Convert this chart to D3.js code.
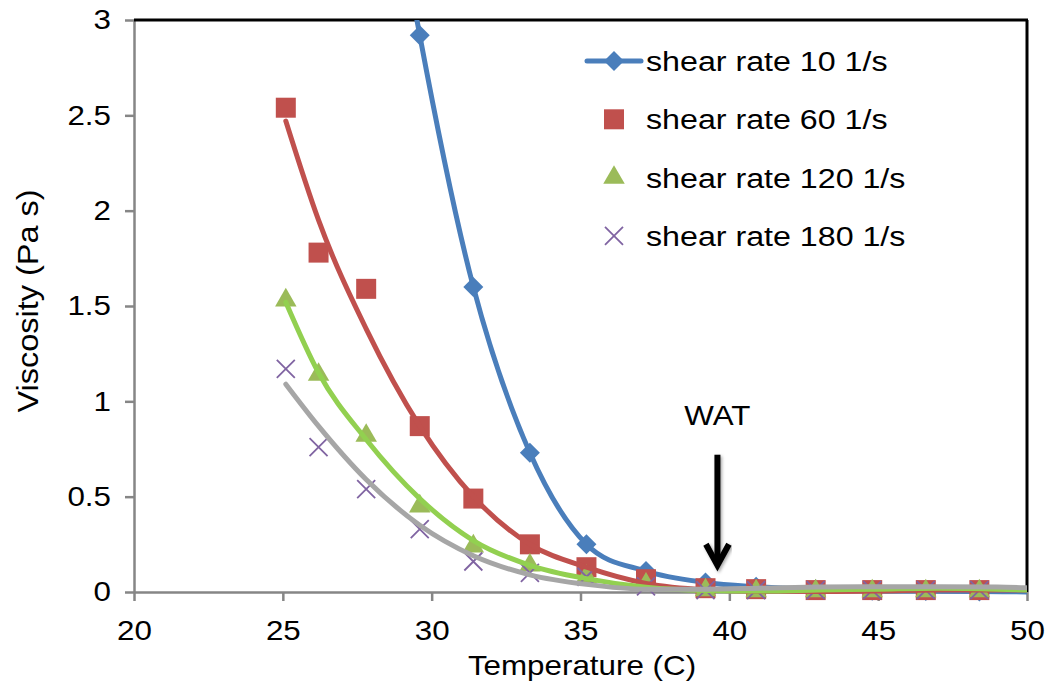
<!DOCTYPE html>
<html lang="en">
<head>
<meta charset="UTF-8">
<title>Viscosity vs temperature</title>
<script src="https://cdn.jsdelivr.net/npm/d3@7"></script>
<style>
  body { margin: 0; background: #fff; }
  text { font-family: "Liberation Sans", Arial, sans-serif; font-size: 28px; fill: #000; }
</style>
</head>
<body>
<svg id="chart" width="1052" height="685"></svg>
<script>
// measured temperatures (C)
var temps = [25.1, 26.2, 27.8, 29.6, 31.4, 33.3, 35.2, 37.2, 39.2, 40.9, 42.9, 44.8, 46.6, 48.4];
// shear rate 10 runs off the top at low T and on past 50
var temps10 = [25.1, 26.2, 27.8, 29.6, 31.4, 33.3, 35.2, 37.2, 39.2, 40.9, 42.9, 44.8, 46.6, 48.4, 50.3];
var rate10  = [9.0, 6.8, 4.6, 2.92, 1.60, 0.73, 0.25, 0.11, 0.05, 0.028, 0.015, 0.007, 0.005, 0.003, 0];
var rate60  = [2.54, 1.78, 1.59, 0.87, 0.49, 0.25, 0.13, 0.067, 0.02, 0.015, 0.01, 0.01, 0.01, 0.01];
var rate120 = [1.53, 1.14, 0.82, 0.45, 0.24, 0.14, 0.08, 0.04, 0.01, 0.005, 0.005, 0.005, 0.005, 0.005];
var rate180 = [1.17, 0.76, 0.54, 0.33, 0.16, 0.10, 0.08, 0.03, 0.01, 0.01, 0.01, 0.01, 0.01, 0.01];

// trendlines
var trendTemps = [25.1, 26.2, 27.8, 29.6, 31.4, 33.3, 35.2, 37.2, 39.2, 41, 43, 45, 47, 49, 50];
var trend60  = [2.47, 1.95, 1.38, 0.87, 0.50, 0.25, 0.13, 0.045, 0.012, 0.004, 0.003, 0.005, 0.01, 0.01, 0.01];
var trend120 = [1.52, 1.15, 0.80, 0.49, 0.27, 0.14, 0.07, 0.025, 0.008, 0.005, 0.01, 0.015, 0.02, 0.015, 0.01];
var trend180 = [1.09, 0.87, 0.59, 0.35, 0.19, 0.09, 0.04, 0.015, 0.015, 0.02, 0.026, 0.028, 0.028, 0.026, 0.022];

var legendLabels = ["shear rate 10 1/s", "shear rate 60 1/s", "shear rate 120 1/s", "shear rate 180 1/s"];
var xTicks = [20, 25, 30, 35, 40, 45, 50];
var yTicks = [0, 0.5, 1, 1.5, 2, 2.5, 3];
var yTickLabels = ["0", "0.5", "1", "1.5", "2", "2.5", "3"];
var watLabel = "WAT", watT = 39.6, watTop = 0.72, watTip = 0.14, watText = 0.876;

var STRETCH = 1.12; // glyphs in the picture run wide
var blue = "#4a7ebb", red = "#c0504d", green = "#9bbb59", lime = "#92d050", purple = "#8064a2", grey = "#a6a6a6";

var svg = d3.select("#chart");
var x = d3.scaleLinear().domain([20, 50]).range([134, 1027]);
var y = d3.scaleLinear().domain([0, 3]).range([592, 20]);

svg.append("clipPath").attr("id", "plot")
  .append("rect").attr("x", 134).attr("y", 20).attr("width", 893).attr("height", 582);

// axes
var xAxis = svg.append("g").attr("transform", "translate(0,592)")
  .call(d3.axisBottom(x).tickValues(xTicks).tickSize(9).tickSizeOuter(0).tickPadding(19));
var yAxis = svg.append("g").attr("transform", "translate(134,0)")
  .call(d3.axisLeft(y).tickValues(yTicks).tickSize(9).tickSizeOuter(0)
    .tickFormat(function(d, i) { return yTickLabels[i]; }));
[xAxis, yAxis].forEach(function(a) {
  a.selectAll("path, line").attr("stroke", "#868686").attr("stroke-width", 2.5);
  a.selectAll("text").attr("fill", "#000").style("font-size", "28px")
    .attr("font-family", null).attr("font-size", null);
});
xAxis.selectAll("text").attr("transform", "scale(" + STRETCH + ",1)");
yAxis.selectAll("text").attr("x", -23 / STRETCH).attr("transform", "scale(" + STRETCH + ",1)");

// frame top and right
svg.append("line").attr("x1", 134).attr("x2", 1028).attr("y1", 20).attr("y2", 20)
  .attr("stroke", "#000").attr("stroke-width", 3);
svg.append("line").attr("x1", 1027).attr("x2", 1027).attr("y1", 20).attr("y2", 592)
  .attr("stroke", "#000").attr("stroke-width", 3);

// axis titles
svg.append("text").attr("text-anchor", "middle")
  .attr("transform", "translate(582,675) scale(" + STRETCH + ",1)")
  .text("Temperature (C)");
svg.append("text").attr("text-anchor", "middle")
  .attr("transform", "translate(38,301) rotate(-90) scale(" + STRETCH + ",1)")
  .style("font-size", "29px")
  .text("Viscosity (Pa s)");

// marker shapes
var diamond = d3.symbol(d3.symbolSquare, 200);
var square = d3.symbol(d3.symbolSquare, 400);
var triangle = d3.symbol(d3.symbolTriangle, 200);
var cross = d3.symbol({
  draw: function(ctx, size) {
    var r = Math.sqrt(size) / 2;
    ctx.moveTo(-r, -r); ctx.lineTo(r, r);
    ctx.moveTo(r, -r); ctx.lineTo(-r, r);
  }
}, 324);

function pts(ts, vs) {
  return ts.map(function(t, i) { return [t, vs[i]]; });
}
function inView(d) { return d[1] <= 3 && d[0] <= 50; }

var smooth = d3.line().x(function(d) { return x(d[0]); }).y(function(d) { return y(d[1]); })
  .curve(d3.curveCardinal.tension(0));
var trend = d3.line().x(function(d) { return x(d[0]); }).y(function(d) { return y(d[1]); })
  .curve(d3.curveMonotoneX);

var series = svg.append("g");

// shear rate 10: line + diamonds
series.append("path").datum(pts(temps10, rate10))
  .attr("clip-path", "url(#plot)")
  .attr("d", smooth).attr("fill", "none").attr("stroke", blue).attr("stroke-width", 5);
series.selectAll(".d10").data(pts(temps10, rate10).filter(inView)).enter().append("path")
  .attr("class", "d10").attr("d", diamond).attr("fill", blue)
  .attr("transform", function(d) { return "translate(" + x(d[0]) + "," + y(d[1]) + ") rotate(45)"; });

// markers only for the others
series.selectAll(".d60").data(pts(temps, rate60)).enter().append("path")
  .attr("class", "d60").attr("d", square).attr("fill", red)
  .attr("transform", function(d) { return "translate(" + x(d[0]) + "," + y(d[1]) + ")"; });
series.selectAll(".d120").data(pts(temps, rate120)).enter().append("path")
  .attr("class", "d120").attr("d", triangle).attr("fill", green)
  .attr("transform", function(d) { return "translate(" + x(d[0]) + "," + y(d[1]) + ")"; });
series.selectAll(".d180").data(pts(temps, rate180)).enter().append("path")
  .attr("class", "d180").attr("d", cross).attr("fill", "none").attr("stroke", purple).attr("stroke-width", 1.8)
  .attr("transform", function(d) { return "translate(" + x(d[0]) + "," + y(d[1]) + ")"; });

// trendlines on top
[[trend60, red], [trend120, lime], [trend180, grey]].forEach(function(s) {
  series.append("path").datum(pts(trendTemps, s[0]))
    .attr("clip-path", "url(#plot)")
    .attr("d", trend).attr("fill", "none").attr("stroke", s[1])
    .attr("stroke-width", 5).attr("stroke-linecap", "round");
});

// WAT arrow
var ax = x(watT);
svg.append("defs").append("filter").attr("id", "shadow")
  .append("feDropShadow").attr("dx", 1.5).attr("dy", 1.5).attr("stdDeviation", 1.5)
  .attr("flood-color", "#000").attr("flood-opacity", 0.35);
var arrow = svg.append("g").attr("stroke", "#000").attr("stroke-width", 6).attr("fill", "none")
  .attr("filter", "url(#shadow)");
arrow.append("line").attr("x1", ax).attr("x2", ax).attr("y1", y(watTop)).attr("y2", y(watTip) - 3);
arrow.append("polyline").attr("stroke-linejoin", "miter")
  .attr("points", [[ax - 11.5, y(watTip) - 21], [ax, y(watTip)], [ax + 11.5, y(watTip) - 21]].join(" "));
svg.append("text").attr("text-anchor", "middle")
  .attr("transform", "translate(" + ax + "," + y(watText) + ") scale(" + STRETCH + ",1)")
  .text(watLabel);

// legend
var legend = svg.append("g").attr("transform", "translate(614,61)");
var rows = legend.selectAll("g").data(legendLabels).enter().append("g")
  .attr("transform", function(d, i) { return "translate(0," + (i * 58.3) + ")"; });
rows.append("text").attr("transform", "translate(32,10) scale(" + (STRETCH + 0.03) + ",1)").text(function(d) { return d; });
legend.append("line").attr("x1", -27).attr("x2", 27).attr("stroke", blue)
  .attr("stroke-width", 5).attr("stroke-linecap", "round");
legend.append("path").attr("d", diamond).attr("fill", blue).attr("transform", "rotate(45)");
rows.filter(function(d, i) { return i == 1; }).append("path").attr("d", square).attr("fill", red);
rows.filter(function(d, i) { return i == 2; }).append("path").attr("d", triangle).attr("fill", green);
rows.filter(function(d, i) { return i == 3; }).append("path").attr("d", cross)
  .attr("fill", "none").attr("stroke", purple).attr("stroke-width", 1.8);
</script>
</body>
</html>
